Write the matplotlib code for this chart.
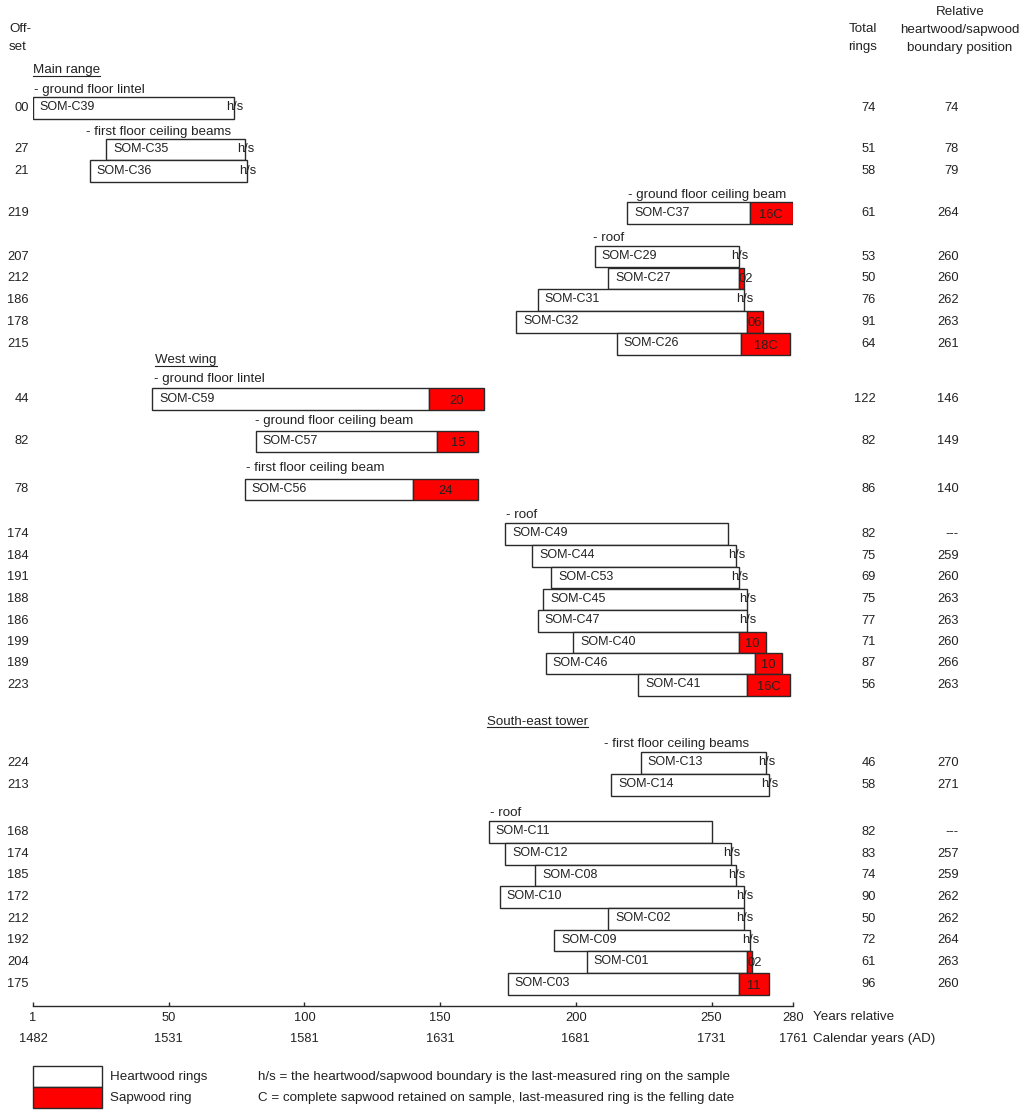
import matplotlib
matplotlib.use("Agg")
import matplotlib.pyplot as plt
import matplotlib.transforms as mtransforms
from matplotlib.patches import Rectangle
from matplotlib.lines import Line2D

plt.rcParams["font.family"] = ["Liberation Sans", "DejaVu Sans"]
plt.rcParams["font.size"] = 9

# ---- data -------------------------------------------------------------
samples = ["SOM-C39", "SOM-C35", "SOM-C36", "SOM-C37", "SOM-C29", "SOM-C27",
           "SOM-C31", "SOM-C32", "SOM-C26", "SOM-C59", "SOM-C57", "SOM-C56",
           "SOM-C49", "SOM-C44", "SOM-C53", "SOM-C45", "SOM-C47", "SOM-C40",
           "SOM-C46", "SOM-C41", "SOM-C13", "SOM-C14", "SOM-C11", "SOM-C12",
           "SOM-C08", "SOM-C10", "SOM-C02", "SOM-C09", "SOM-C01", "SOM-C03"]
offsets = [0, 27, 21, 219, 207, 212, 186, 178, 215, 44, 82, 78,
           174, 184, 191, 188, 186, 199, 189, 223, 224, 213, 168, 174,
           185, 172, 212, 192, 204, 175]
total_rings = [74, 51, 58, 61, 53, 50, 76, 91, 64, 122, 82, 86,
               82, 75, 69, 75, 77, 71, 87, 56, 46, 58, 82, 83,
               74, 90, 50, 72, 61, 96]
# None: boundary not present ("---")
boundary = [74, 78, 79, 264, 260, 260, 262, 263, 261, 146, 149, 140,
            None, 259, 260, 263, 263, 260, 266, 263, 270, 271, None, 257,
            259, 262, 262, 264, 263, 260]
complete_sapwood = ["SOM-C37", "SOM-C26", "SOM-C41"]

rel_tick_labels = [1, 50, 100, 150, 200, 250, 280]
cal_tick_labels = [1482, 1531, 1581, 1631, 1681, 1731, 1761]
rel_tick_pos = [0, 50, 100, 150, 200, 250, 280]

# group headings: (text, underlined?, x in relative years)
headings = [
    ("Main range", True, 0),
    ("- ground floor lintel", False, 0.5),
    ("- first floor ceiling beams", False, 19.5),
    ("- ground floor ceiling beam", False, 219.2),
    ("- roof", False, 206.3),
    ("West wing", True, 45),
    ("- ground floor lintel", False, 44.6),
    ("- ground floor ceiling beam", False, 81.8),
    ("- first floor ceiling beam", False, 78.5),
    ("- roof", False, 174.3),
    ("South-east tower", True, 167.3),
    ("- first floor ceiling beams", False, 210.4),
    ("- roof", False, 168.4),
]

# ---- layout (vertical positions in pixels from top) --------------------
W, H = 1023, 1111
row_y = [108, 149.5, 171, 213, 256.5, 278.3, 300, 322, 344, 399, 441.5, 489.5,
         534, 556, 577.5, 599.5, 621, 642.5, 663.5, 685, 763, 785, 832, 854,
         875.5, 897, 919, 940.5, 962, 984]
heading_y = [70, 90, 132, 195, 238, 360, 379, 421, 468, 515, 722, 744, 813]
bar_h = 21.6
axis_y = 1006
fs_word = 9.6   # running text (headings, captions, legend)
fs_lab = 9.0    # sample ids and numbers

text_col = "#222222"
edge_col = "#2a2a2a"
red = "#ff0000"

fig = plt.figure(figsize=(W / 100, H / 100), dpi=100)
x0_px, x1_px = 33, 793
ax = fig.add_axes([x0_px / W, 1 - axis_y / H, (x1_px - x0_px) / W, axis_y / H])
ax.set_xlim(0, 280)
ax.set_ylim(axis_y, 0)
for s in ("left", "right", "top"):
    ax.spines[s].set_visible(False)
ax.spines["bottom"].set_color(edge_col)
ax.spines["bottom"].set_linewidth(1.0)
ax.set_yticks([])
ax.set_xticks(rel_tick_pos)
ax.set_xticklabels([str(v) for v in rel_tick_labels])
ax.tick_params(axis="x", direction="in", length=3.2, width=1.0,
               color=edge_col, labelcolor=text_col, labelsize=9.3, pad=4)
ax.patch.set_visible(False)

# figure-x / data-y transform for the side columns
fx_dy = mtransforms.blended_transform_factory(fig.transFigure, ax.transData)

def fig_text(px, py, s, size=fs_word, **kw):
    kw.setdefault("color", text_col)
    return fig.text(px / W, 1 - py / H, s, va="center", fontsize=size, **kw)

# ---- bars --------------------------------------------------------------
for i, name in enumerate(samples):
    y = row_y[i]
    start = offsets[i]
    end = offsets[i] + total_rings[i]
    hb = boundary[i] if boundary[i] is not None else end
    z = 2 + i
    ax.barh(y, hb - start, left=start, height=bar_h, color="white",
            edgecolor=edge_col, linewidth=1.0, zorder=z)
    sap = end - hb
    if sap > 0:
        ax.barh(y, sap, left=hb, height=bar_h, color=red,
                edgecolor=edge_col, linewidth=1.0, zorder=z)
        lab = f"{sap:02d}" + ("C" if name in complete_sapwood else "")
        if sap >= 8:
            ax.text(hb + sap / 2, y + 2, lab, ha="center", va="center",
                    color=text_col, fontsize=9.3, zorder=z + 0.5)
        else:
            ax.text(hb + 0.1, y + 1, lab, ha="left", va="center",
                    color=text_col, fontsize=9.3, zorder=z + 0.5)
    elif boundary[i] is not None:
        ax.text(end + 0.3, y - 0.5, "h/s", ha="center", va="center",
                color=text_col, fontsize=9.3, zorder=z + 0.5)
    ax.text(start + 2.5, y - 0.5, name, ha="left", va="center",
            color=text_col, fontsize=fs_lab, zorder=z + 0.5)

    # offset / total rings / boundary columns
    ax.text(29 / W, y, f"{offsets[i]:02d}", transform=fx_dy, ha="right",
            va="center", color=text_col, fontsize=9.3, clip_on=False)
    ax.text(876 / W, y, str(total_rings[i]), transform=fx_dy, ha="right",
            va="center", color=text_col, fontsize=9.3, clip_on=False)
    ax.text(959 / W, y, "---" if boundary[i] is None else str(boundary[i]),
            transform=fx_dy, ha="right", va="center", color=text_col,
            fontsize=9.3, clip_on=False)

# ---- group headings ----------------------------------------------------
underline_texts = []
for (txt, ul, xh), yh in zip(headings, heading_y):
    t = ax.text(xh, yh, txt, ha="left", va="center", color=text_col,
                fontsize=fs_word, zorder=50, clip_on=False)
    if ul:
        underline_texts.append(t)

# ---- column headers ----------------------------------------------------
fig_text(9, 29, "Off-", ha="left")
fig_text(9, 47, "set", ha="left")
fig_text(863, 29, "Total", ha="center")
fig_text(863, 47, "rings", ha="center")
fig_text(960, 12, "Relative", ha="center")
fig_text(960, 30, "heartwood/sapwood", ha="center")
fig_text(960, 48, "boundary position", ha="center")

# ---- axis captions & calendar years -----------------------------------
fig_text(813, 1017, "Years relative", ha="left")
fig_text(813, 1039, "Calendar years (AD)", ha="left")
for p, c in zip(rel_tick_pos, cal_tick_labels):
    ax.text(p, 1039, str(c), ha="center", va="center", color=text_col,
            fontsize=9.3, clip_on=False)

# ---- legend ------------------------------------------------------------
fig.add_artist(Rectangle((33 / W, 1 - 1087 / H), 69 / W, 21 / H,
                         transform=fig.transFigure, facecolor="white",
                         edgecolor=edge_col, linewidth=1.0))
fig.add_artist(Rectangle((33 / W, 1 - 1108 / H), 69 / W, 21 / H,
                         transform=fig.transFigure, facecolor=red,
                         edgecolor=edge_col, linewidth=1.0))
fig_text(110, 1077, "Heartwood rings", ha="left")
fig_text(110, 1098, "Sapwood ring", ha="left")
fig_text(258, 1077, "h/s = the heartwood/sapwood boundary is the last-measured ring on the sample", ha="left")
fig_text(258, 1098, "C = complete sapwood retained on sample, last-measured ring is the felling date", ha="left")

# underline the section titles
fig.canvas.draw()
renderer = fig.canvas.get_renderer()
for t in underline_texts:
    bb = t.get_window_extent(renderer)
    yl = bb.y0 + 0.5
    fig.add_artist(Line2D([bb.x0 / W, bb.x1 / W], [yl / H, yl / H],
                          transform=fig.transFigure, color=text_col,
                          linewidth=0.8))

fig.savefig("out.png", dpi=100, facecolor="white")
